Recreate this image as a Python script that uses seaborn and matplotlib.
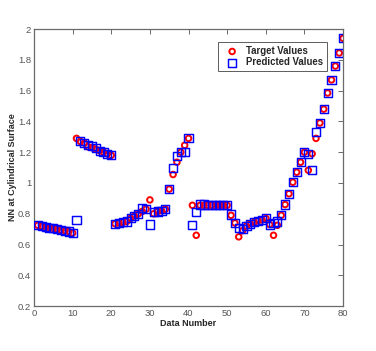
import numpy as np
import pandas as pd
import matplotlib
matplotlib.use('Agg')
import matplotlib.pyplot as plt
import seaborn as sns
from matplotlib.ticker import FuncFormatter

data_number = list(range(1, 81))

target_values = [
    0.725, 0.72, 0.715, 0.71, 0.705, 0.70, 0.695, 0.69, 0.685, 0.675,
    1.29, 1.27, 1.26, 1.235, 1.23, 1.22, 1.21, 1.20, 1.19, 1.18,
    0.735, 0.74, 0.745, 0.75, 0.77, 0.785, 0.80, 0.815, 0.83, 0.89,
    0.80, 0.815, 0.82, 0.83, 0.96, 1.055, 1.135, 1.20, 1.245, 1.29,
    0.855, 0.66, 0.855, 0.855, 0.855, 0.855, 0.855, 0.855, 0.855, 0.855,
    0.79, 0.74, 0.65, 0.69, 0.72, 0.735, 0.745, 0.755, 0.76, 0.77,
    0.73, 0.66, 0.725, 0.79, 0.86, 0.93, 1.005, 1.07, 1.135, 1.20,
    1.083, 1.19, 1.29, 1.39, 1.48, 1.585, 1.67, 1.76, 1.845, 1.94,
]

predicted_values = [
    0.725, 0.72, 0.715, 0.71, 0.705, 0.70, 0.695, 0.69, 0.685, 0.675,
    0.76, 1.27, 1.26, 1.245, 1.24, 1.225, 1.21, 1.20, 1.19, 1.18,
    0.735, 0.74, 0.745, 0.75, 0.77, 0.785, 0.80, 0.84, 0.83, 0.73,
    0.81, 0.815, 0.82, 0.83, 0.96, 1.10, 1.175, 1.20, 1.20, 1.29,
    0.725, 0.81, 0.86, 0.86, 0.858, 0.856, 0.855, 0.855, 0.855, 0.855,
    0.795, 0.74, 0.705, 0.70, 0.72, 0.735, 0.745, 0.755, 0.76, 0.77,
    0.73, 0.74, 0.75, 0.79, 0.86, 0.93, 1.005, 1.07, 1.135, 1.20,
    1.19, 1.083, 1.33, 1.39, 1.48, 1.585, 1.67, 1.76, 1.845, 1.94,
]

sns.set_style('white')
plt.rcParams['font.family'] = ['Liberation Sans', 'DejaVu Sans']

fig = plt.figure(figsize=(3.76, 3.51), dpi=100)
ax = fig.add_axes([0.0904, 0.128, 0.822, 0.789])

df = pd.DataFrame({'n': data_number, 'target': target_values, 'pred': predicted_values})

# red circles under hollow blue squares, matlab style
sns.scatterplot(data=df, x='n', y='target', ax=ax, marker='o', s=16,
                color='red', facecolor='none', edgecolor='red', linewidth=1.4,
                label='Target Values', zorder=3)
sns.scatterplot(data=df, x='n', y='pred', ax=ax, marker='s', s=34,
                color='blue', facecolor='none', edgecolor='blue', linewidth=1.05,
                label='Predicted Values', zorder=4)

ax.set_xlim(0, 80)
ax.set_ylim(0.2, 2)
ax.set_xticks(np.arange(0, 81, 10))
ax.set_yticks(np.arange(0.2, 2.01, 0.2))
ax.yaxis.set_major_formatter(FuncFormatter(lambda v, p: f'{v:g}' if abs(v - round(v)) > 1e-6 else f'{int(round(v))}'))

gray = '#6a6a6a'
for sp in ax.spines.values():
    sp.set_color(gray)
    sp.set_linewidth(0.9)
ax.tick_params(direction='in', length=3.5, width=0.7, color=gray, labelcolor='#555555',
               labelsize=6.8, top=True, right=True, pad=2)

ax.set_xlabel('Data Number', fontsize=6.5, fontweight='bold', labelpad=1)
ax.set_ylabel('NN at Cylindrical Surface', fontsize=6.5, fontweight='bold', labelpad=1)

leg = ax.legend(loc='upper right', bbox_to_anchor=(0.948, 0.953), borderaxespad=0,
                frameon=True, fancybox=False, borderpad=0.4, handletextpad=0.35,
                labelspacing=0.15, handlelength=2.2, prop={'weight': 'bold', 'size': 6.9})
leg.get_frame().set_edgecolor('#333333')
leg.get_frame().set_linewidth(0.7)

fig.savefig('out.png', dpi=100)
